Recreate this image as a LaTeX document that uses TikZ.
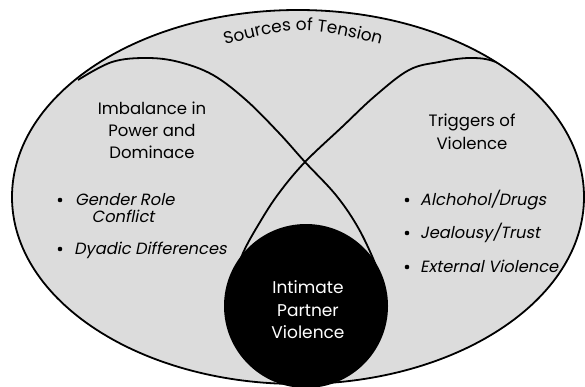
\documentclass[tikz,border=0pt]{standalone}
\usepackage{fontspec}
\setmainfont{Poppins}
\newfontfamily\itfont[FakeSlant=0.2]{Poppins}
\usetikzlibrary{decorations.text}
\definecolor{lightfill}{HTML}{DCDCDC}
\begin{document}
\begin{tikzpicture}[x=1pt,y=-1pt,
  head/.style={font=\fontsize{16.5}{20}\selectfont, anchor=base, inner sep=0pt},
  inner/.style={font=\fontsize{17}{20}\selectfont, anchor=base, inner sep=0pt, text=white},
  item/.style={font=\itfont\fontsize{16.3}{18}\selectfont, anchor=base west, inner sep=0pt},
  itemc/.style={item, anchor=base},
  bulletdot/.style={circle, fill=black, inner sep=0pt, minimum size=4.6pt},
  outline/.style={line width=1.8pt, line join=round}
]
\useasboundingbox (0,0) rectangle (585,387);
% outer field
\fill[lightfill] (298,197) ellipse [x radius=286, y radius=187];
\begin{scope}
  \clip (298,197) ellipse [x radius=286, y radius=187];
  \draw[outline] plot[smooth, tension=0.6] coordinates {(78,80) (112,62) (147,58) (179,62) (213,75) (246,100) (279,133) (305,162) (335,194) (356,224) (372,256) (385,290)};
  \draw[outline] plot[smooth, tension=0.6] coordinates {(530,80) (496,62) (470,58) (439,62) (409,70) (375,96) (342,127) (305,162) (279,193) (260,222) (243,253) (232,285)};
\end{scope}
% centre
\fill[black] (306,306) circle [radius=82];
\draw[outline] (298,197) ellipse [x radius=286, y radius=187];
% arc title
\path[decorate, decoration={text along path, text align=center,
  text={|\fontsize{17}{20}\selectfont|Sources of Tension}}]
  (205,50) .. controls (303,24) .. (401,50);
% left lobe
\node[head] (l1) at (152,115) {Imbalance in};
\node[head] (l2) at (152,137) {Power and};
\node[head] (l3) at (152,159) {Dominace};
\node[bulletdot] (lb1) at (60,200) {};
\node[item] (li1) at (75,205) {Gender Role};
\node[itemc] (li1b) at (123,222) {Conflict};
\node[bulletdot] (lb2) at (60,249) {};
\node[item] (li2) at (74,254) {Dyadic Differences};
% right lobe
\node[head] (r1) at (472,127) {Triggers of};
\node[head] (r2) at (472,150) {Violence};
\node[bulletdot] (rb1) at (407,200) {};
\node[item] (ri1) at (420,205) {Alchohol/Drugs};
\node[bulletdot] (rb2) at (407,233) {};
\node[item] (ri2) at (420,238) {Jealousy/Trust};
\node[bulletdot] (rb3) at (407,267) {};
\node[item] (ri3) at (420,272) {External Violence};
% centre text
\node[inner] (c1) at (308,293) {Intimate};
\node[inner] (c2) at (308,316) {Partner};
\node[inner] (c3) at (308,338) {Violence};
\end{tikzpicture}
\end{document}
